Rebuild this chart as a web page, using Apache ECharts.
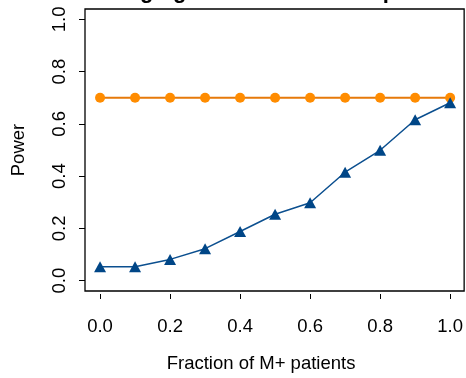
<!DOCTYPE html>
<html>
<head>
<meta charset="utf-8">
<script src="https://cdn.jsdelivr.net/npm/echarts@6/dist/echarts.min.js"></script>
<style>
  html, body { margin: 0; padding: 0; background: #fff; }
  #chart { width: 466px; height: 378px; }
</style>
</head>
<body>
<div id="chart"></div>
<script>
// data
var fractions = [0.0, 0.1, 0.2, 0.3, 0.4, 0.5, 0.6, 0.7, 0.8, 0.9, 1.0];
var powerFlat = [0.70, 0.70, 0.70, 0.70, 0.70, 0.70, 0.70, 0.70, 0.70, 0.70, 0.70];
var powerRising = [0.053, 0.053, 0.081, 0.122, 0.188, 0.254, 0.298, 0.415, 0.499, 0.616, 0.681];
var tickValues = [0, 0.2, 0.4, 0.6, 0.8, 1.0];

var font = "Liberation Sans, Arial, sans-serif";
var fs = 18.5;

var chart = echarts.init(document.getElementById("chart"));

function pairs(ys) {
  return fractions.map(function (x, i) { return [x, ys[i]]; });
}

chart.setOption({
  animation: false,
  backgroundColor: "#fff",
  graphic: [
    {
      // title is cut off by the top edge of the picture
      type: "text",
      x: 276,
      y: 3,
      style: {
        text: "Changing the fraction of M+ patients",
        font: "bold 22px " + font,
        fill: "#000",
        textAlign: "center",
        textVerticalAlign: "bottom"
      }
    }
  ],
  grid: {
    left: 85, right: 1, top: 9, bottom: 84,
    show: true,
    borderColor: "#000",
    borderWidth: 1.3,
    backgroundColor: "transparent"
  },
  xAxis: {
    type: "value",
    min: -0.043,
    max: 1.04,
    offset: 3,
    axisLine: { show: false, onZero: false },
    splitLine: { show: false },
    axisTick: {
      show: true, length: 5, customValues: tickValues,
      lineStyle: { color: "#000", width: 1 }
    },
    axisLabel: {
      customValues: tickValues,
      margin: 23,
      color: "#000",
      fontFamily: font,
      fontSize: fs,
      formatter: function (v) { return v.toFixed(1); }
    },
    name: "Fraction of M+ patients",
    nameLocation: "middle",
    nameGap: 60,
    nameTextStyle: { color: "#000", fontFamily: font, fontSize: fs, padding: [0, 27, 0, 0] }
  },
  yAxis: {
    type: "value",
    min: -0.04,
    max: 1.04,
    axisLine: { show: false, onZero: false },
    splitLine: { show: false },
    axisTick: {
      show: true, length: 6, customValues: tickValues,
      lineStyle: { color: "#000", width: 1 }
    },
    axisLabel: {
      customValues: tickValues,
      rotate: 90,
      margin: 16,
      color: "#000",
      fontFamily: font,
      fontSize: fs,
      formatter: function (v) { return v.toFixed(1); }
    },
    name: "Power",
    nameLocation: "middle",
    nameGap: 57,
    nameTextStyle: { color: "#000", fontFamily: font, fontSize: fs }
  },
  series: [
    {
      name: "flat",
      type: "line",
      data: pairs(powerFlat),
      symbol: "circle",
      symbolSize: 10,
      lineStyle: { color: "#E67A0A", width: 2 },
      itemStyle: { color: "#FF8C00", borderWidth: 0 },
      z: 2
    },
    {
      name: "rising",
      type: "line",
      data: pairs(powerRising),
      symbol: "triangle",
      symbolSize: [12, 11],
      lineStyle: { color: "#0B4F8F", width: 1.5 },
      itemStyle: { color: "#004687", borderWidth: 0 },
      z: 3
    }
  ]
});
</script>
</body>
</html>
